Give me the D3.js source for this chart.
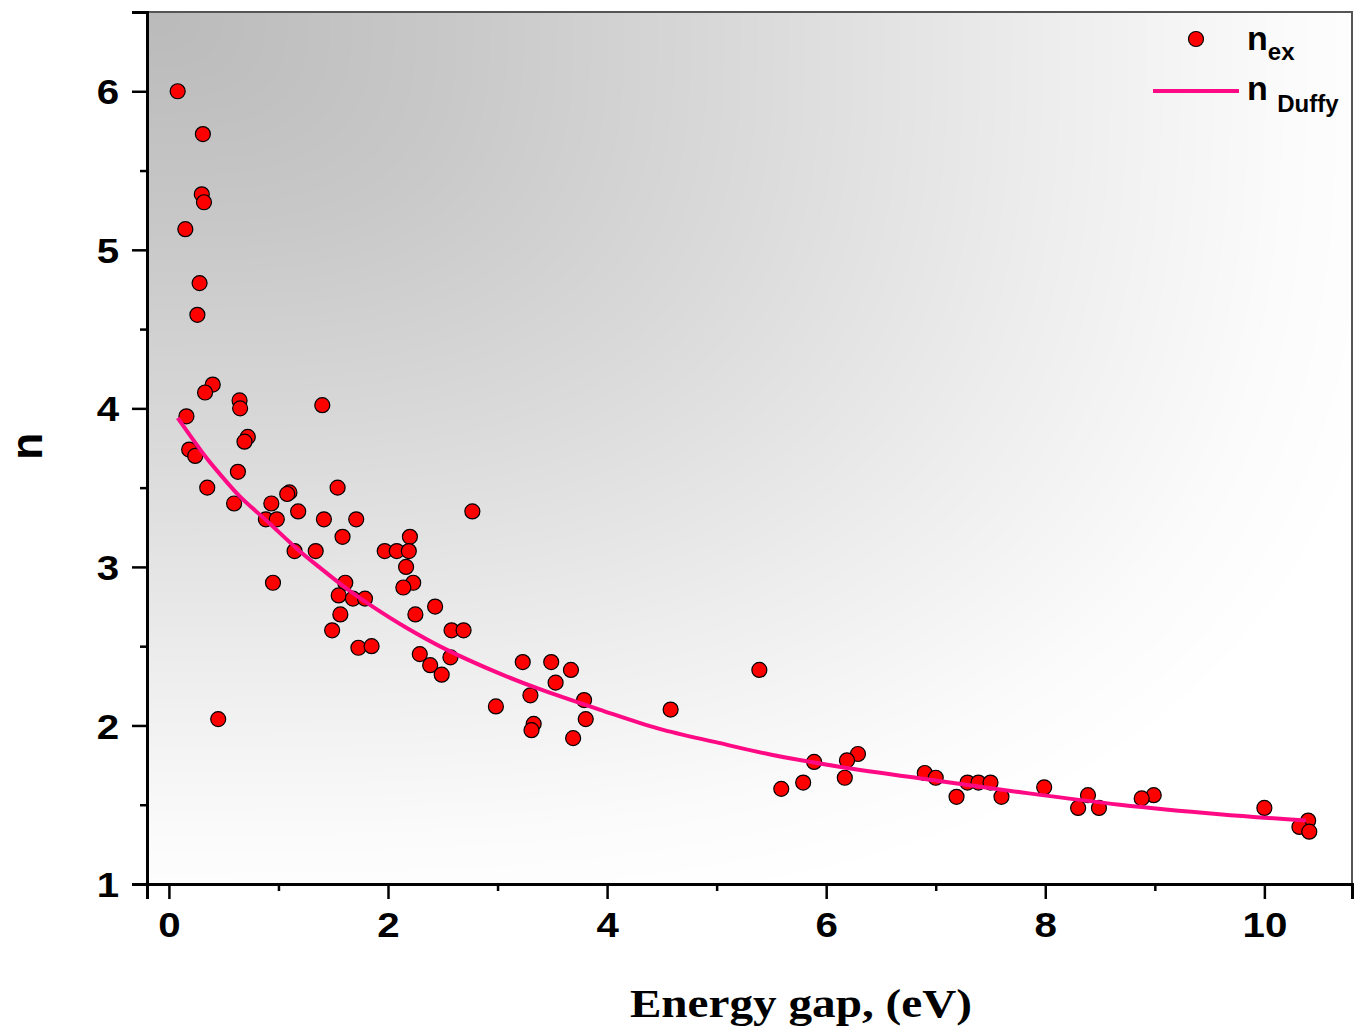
<!DOCTYPE html>
<html lang="en">
<head>
    <meta charset="UTF-8">
    <title>Refractive index vs energy gap</title>
    <script src="https://d3js.org/d3.v7.min.js"></script>
    <style>
        body { margin: 0; background: #ffffff; }
        #chart { width: 1354px; height: 1034px; }
        .tick-label { font-family: 'Liberation Sans', Arial, sans-serif; font-weight: bold; font-size: 35px; fill: #000; }
        .x-title { font-family: 'Liberation Serif', 'Times New Roman', serif; font-weight: bold; font-size: 40px; }
        .y-title, .legend-text { font-family: 'Liberation Sans', Arial, sans-serif; font-weight: bold; }
    </style>
</head>
<body>
    <div id="chart"></div>

    <script>
        // measured points (energy gap in eV, refractive index)
        const gapEv = [
            0.08, 0.31, 0.30, 0.32, 0.15, 0.28, 0.26, 0.40, 0.33, 0.645,
            0.65, 1.40, 0.16, 0.72, 0.69, 0.185, 0.24, 0.63, 0.35, 1.54,
            1.10, 1.08, 0.595, 0.935, 2.77, 1.18, 0.885, 0.985, 1.415, 1.71,
            1.585, 2.20, 1.147, 1.34, 1.97, 2.08, 2.19, 2.165, 0.95, 1.61,
            2.23, 2.14, 1.55, 1.68, 1.79, 2.43, 1.565, 2.25, 1.49, 2.58,
            2.69, 1.73, 1.85, 2.29, 2.57, 2.385, 2.49, 3.23, 3.49, 3.67,
            5.39, 3.53, 3.30, 3.79, 2.985, 4.58, 3.805, 0.45, 3.33, 3.31,
            3.69, 6.29, 6.19, 5.89, 6.90, 7.00, 6.17, 5.79, 7.29, 7.39,
            7.50, 7.99, 5.59, 7.19, 7.60, 8.39, 8.99, 8.88, 8.30, 8.49,
            10.0, 10.40, 10.32, 10.41
        ];
        const nEx = [
            6.00, 5.73, 5.35, 5.30, 5.13, 4.79, 4.59, 4.15, 4.10, 4.05,
            4.00, 4.02, 3.95, 3.82, 3.79, 3.74, 3.70, 3.60, 3.50, 3.50,
            3.47, 3.46, 3.40, 3.40, 3.35, 3.35, 3.30, 3.30, 3.30, 3.30,
            3.19, 3.19, 3.10, 3.10, 3.10, 3.10, 3.10, 3.00, 2.90, 2.90,
            2.90, 2.87, 2.82, 2.80, 2.80, 2.75, 2.70, 2.70, 2.60, 2.60,
            2.60, 2.49, 2.50, 2.45, 2.43, 2.38, 2.32, 2.40, 2.40, 2.35,
            2.35, 2.27, 2.19, 2.16, 2.12, 2.10, 2.04, 2.04, 2.01, 1.97,
            1.92, 1.82, 1.78, 1.77, 1.70, 1.67, 1.67, 1.64, 1.64, 1.64,
            1.64, 1.61, 1.60, 1.55, 1.55, 1.56, 1.56, 1.54, 1.48, 1.48,
            1.48, 1.40, 1.36, 1.33
        ];

        // Duffy curve
        const duffyGap = [0.08, 0.34, 0.46, 0.64, 0.91, 1.16, 1.37, 1.61, 1.86, 2.16, 2.53, 3.01,
                          3.38, 3.93, 4.47, 5.02, 5.50, 6.12, 7.03, 7.76, 8.68, 9.59, 10.38];
        const duffyN = [3.94, 3.69, 3.59, 3.45, 3.28, 3.12, 3.00, 2.87, 2.75, 2.62, 2.48, 2.33,
                        2.23, 2.10, 1.98, 1.89, 1.815, 1.74, 1.65, 1.58, 1.50, 1.44, 1.40];

        const xMajor = [0, 2, 4, 6, 8, 10];
        const xMinor = [1, 3, 5, 7, 9];
        const yMajor = [1, 2, 3, 4, 5, 6];
        const yMinor = [1.5, 2.5, 3.5, 4.5, 5.5];

        const W = 1354, H = 1034;
        const margin = { top: 12, right: 2, bottom: 150, left: 147 };
        const iw = W - margin.left - margin.right;
        const ih = H - margin.top - margin.bottom;

        const svg = d3.select("#chart").append("svg")
            .attr("width", W).attr("height", H);

        const g = svg.append("g").attr("transform", `translate(${margin.left},${margin.top})`);

        const x = d3.scaleLinear().domain([-0.2, 10.8]).range([0, iw]);
        const y = d3.scaleLinear().domain([1, 6.5]).range([ih, 0]);

        // background: grey corner fade from the top-left, painted on a canvas
        const cv = document.createElement("canvas");
        cv.width = Math.round(iw); cv.height = Math.round(ih);
        const ctx = cv.getContext("2d");
        const img = ctx.createImageData(cv.width, cv.height);
        const shade = d3.scaleLinear().domain([0, 0.25, 0.5, 0.75, 0.95, 1.05])
            .range([186, 200, 218, 237, 251, 255]).clamp(true);
        for (let j = 0; j < cv.height; j++) {
            for (let i = 0; i < cv.width; i++) {
                const u = i / cv.width, v = j / cv.height;
                const t = Math.pow(Math.pow(u, 3) + Math.pow(v, 3), 1 / 3);
                const c = shade(t), k = (j * cv.width + i) * 4;
                img.data[k] = img.data[k + 1] = img.data[k + 2] = c;
                img.data[k + 3] = 255;
            }
        }
        ctx.putImageData(img, 0, 0);
        g.append("image").attr("width", iw).attr("height", ih)
            .attr("preserveAspectRatio", "none").attr("href", cv.toDataURL());

        g.append("rect").attr("width", iw).attr("height", ih).attr("fill", "none")
            .attr("stroke", "#555").attr("stroke-width", 2);

        // axes
        const xAxis = g.append("g").attr("transform", `translate(0,${ih})`);
        xAxis.call(d3.axisBottom(x).tickValues(xMinor).tickSize(7).tickFormat(""));
        xAxis.append("g").call(d3.axisBottom(x).tickValues(xMajor).tickSize(15).tickPadding(13).tickFormat(d3.format("d")));
        const yAxis = g.append("g");
        yAxis.call(d3.axisLeft(y).tickValues(yMinor).tickSize(7).tickFormat(""));
        yAxis.append("g").call(d3.axisLeft(y).tickValues(yMajor).tickSize(15).tickPadding(13).tickFormat(d3.format("d")));

        g.selectAll(".domain").attr("stroke", "#000").attr("stroke-width", 3);
        g.selectAll(".tick line").attr("stroke", "#000").attr("stroke-width", 2.5);
        g.selectAll(".tick text").attr("class", "tick-label");
        xAxis.selectAll(".tick text").attr("dy", "0.70em");
        yAxis.selectAll(".tick text").attr("dy", "0.36em");

        // the source figure is stretched sideways a little
        function widen(sel, f) {
            sel.each(function () {
                const len = this.getComputedTextLength();
                d3.select(this).attr("textLength", len * f).attr("lengthAdjust", "spacingAndGlyphs");
            });
        }
        widen(g.selectAll(".tick-label"), 1.15);

        // scatter points
        const pts = d3.zip(gapEv, nEx);
        g.append("g").selectAll("circle").data(pts).enter().append("circle")
            .attr("cx", d => x(d[0])).attr("cy", d => y(d[1])).attr("r", 7.5)
            .attr("fill", "#ff0000").attr("stroke", "#000").attr("stroke-width", 1.2);

        // Duffy line on top
        const line = d3.line().x(d => x(d[0])).y(d => y(d[1])).curve(d3.curveCatmullRom.alpha(0.5));
        g.append("path").datum(d3.zip(duffyGap, duffyN)).attr("d", line)
            .attr("fill", "none").attr("stroke", "#ff0a84").attr("stroke-width", 4);

        // axis titles
        const xt = svg.append("text").attr("class", "x-title")
            .attr("x", margin.left + x(5.77)).attr("y", 1017).attr("text-anchor", "middle")
            .text("Energy gap, (eV)");
        widen(xt, 1.18);
        svg.append("text").attr("class", "y-title").attr("font-size", 44)
            .attr("transform", `translate(42,${margin.top + y(3.76)}) rotate(-90)`)
            .attr("text-anchor", "middle").text("n");

        // legend
        const lg = svg.append("g").attr("transform", `translate(${margin.left + iw - 205},${margin.top})`);
        lg.append("circle").attr("cx", 49).attr("cy", 27).attr("r", 7.5)
            .attr("fill", "#ff0000").attr("stroke", "#000").attr("stroke-width", 1.2);
        const t1 = lg.append("text").attr("class", "legend-text").attr("x", 100).attr("y", 38).attr("font-size", 34);
        t1.append("tspan").text("n");
        t1.append("tspan").attr("font-size", 24).attr("dy", 10).text("ex");
        lg.append("line").attr("x1", 6).attr("x2", 92).attr("y1", 79).attr("y2", 79)
            .attr("stroke", "#ff0a84").attr("stroke-width", 4);
        const t2 = lg.append("text").attr("class", "legend-text").attr("x", 100).attr("y", 88).attr("font-size", 34);
        t2.append("tspan").text("n ");
        t2.append("tspan").attr("font-size", 24).attr("dy", 12).text("Duffy");
    </script>
</body>
</html>
